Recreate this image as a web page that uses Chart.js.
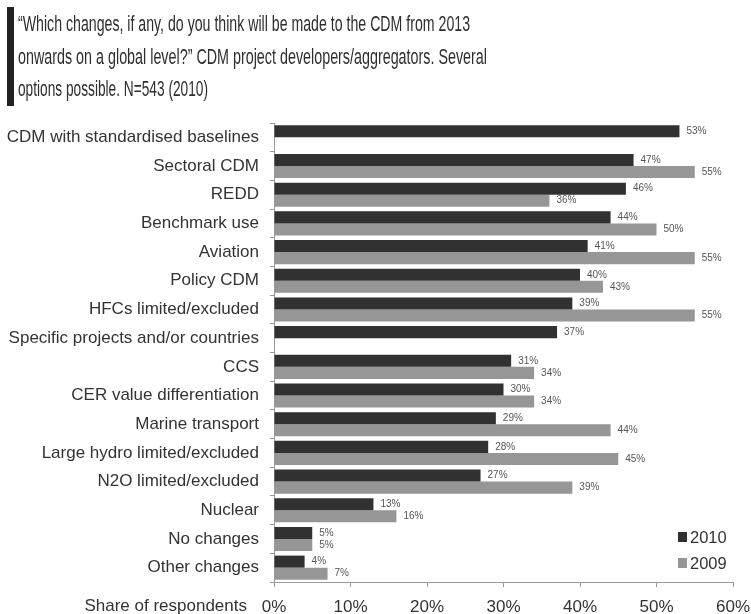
<!DOCTYPE html>
<html>
<head>
<meta charset="utf-8">
<script src="https://cdn.jsdelivr.net/npm/chart.js@4.4.1/dist/chart.umd.min.js"></script>
<style>
  html, body { margin: 0; padding: 0; background: #fff; }
  #wrap { position: relative; width: 751px; height: 614px; }
  #bar { position: absolute; left: 7px; top: 7px; width: 7px; height: 99px; background: #222; }
  .tline {
    position: absolute; left: 18px; white-space: nowrap;
    font-family: "Liberation Sans", Arial, sans-serif;
    font-size: 22.5px; line-height: 23px; color: #2e2e2e;
    transform-origin: 0 0;
  }
  canvas { position: absolute; left: 0; top: 0; }
</style>
</head>
<body>
<div id="wrap">
  <canvas id="c" width="751" height="614"></canvas>
  <div id="bar"></div>
  <div class="tline" data-w="452" style="top:12px">“Which changes, if any, do you think will be made to the CDM from 2013</div>
  <div class="tline" data-w="469" style="top:45px">onwards on a global level?” CDM project developers/aggregators. Several</div>
  <div class="tline" data-w="190" style="top:77px">options possible. N=543 (2010)</div>
</div>
<script>
// Condensed heading: squeeze each line horizontally to its set width
document.querySelectorAll(".tline").forEach((el) => {
  const w = el.getBoundingClientRect().width;
  const target = parseFloat(el.dataset.w);
  el.style.transform = "scaleX(" + (target / w) + ")";
});

// Survey answer categories
const categories = [
  "CDM with standardised baselines",
  "Sectoral CDM",
  "REDD",
  "Benchmark use",
  "Aviation",
  "Policy CDM",
  "HFCs limited/excluded",
  "Specific projects and/or countries",
  "CCS",
  "CER value differentiation",
  "Marine transport",
  "Large hydro limited/excluded",
  "N2O limited/excluded",
  "Nuclear",
  "No changes",
  "Other changes"
];
// Share of respondents (%) per year; null where the option was not asked
const values2010 = [53, 47, 46, 44, 41, 40, 39, 37, 31, 30, 29, 28, 27, 13, 5, 4];
const values2009 = [null, 55, 36, 50, 55, 43, 55, null, 34, 34, 44, 45, 39, 16, 5, 7];
const seriesLabels = ["2010", "2009"];
const xTicks = [0, 10, 20, 30, 40, 50, 60];
const axisTitle = "Share of respondents";

const DARK = "#313131";
const GREY = "#969696";
const FONT = "'Liberation Sans', Arial, sans-serif";

// Value labels to the right of each bar
const valueLabels = {
  id: "valueLabels",
  afterDatasetsDraw(chart) {
    const ctx = chart.ctx;
    ctx.save();
    ctx.font = "10px " + FONT;
    ctx.fillStyle = "#555";
    ctx.textAlign = "left";
    ctx.textBaseline = "middle";
    chart.data.datasets.forEach((ds, di) => {
      const meta = chart.getDatasetMeta(di);
      meta.data.forEach((bar, i) => {
        const v = ds.data[i];
        if (v === null || v === undefined) return;
        ctx.fillText(v + "%", bar.x + 7, bar.y);
      });
    });
    ctx.restore();
  }
};

// Axis caption on the tick row plus a legend inside the lower right of the plot
const extras = {
  id: "extras",
  afterDraw(chart) {
    const ctx = chart.ctx;
    const area = chart.chartArea;
    ctx.save();
    ctx.font = "17px " + FONT;
    ctx.fillStyle = "#333";
    ctx.textAlign = "right";
    ctx.textBaseline = "middle";
    ctx.fillText(axisTitle, area.left - 27, 606);

    // legend
    const lx = area.right - 55;
    let ly = area.bottom - 45;
    chart.data.datasets.forEach((ds) => {
      ctx.fillStyle = ds.backgroundColor;
      ctx.fillRect(lx, ly - 5, 9, 10);
      ctx.fillStyle = "#333";
      ctx.textAlign = "left";
      ctx.font = "16.5px " + FONT;
      ctx.fillText(ds.label, lx + 12, ly + 1);
      ly += 26;
    });
    ctx.restore();
  }
};

new Chart(document.getElementById("c"), {
  type: "bar",
  data: {
    labels: categories,
    datasets: [
      { label: seriesLabels[0], data: values2010, backgroundColor: DARK },
      { label: seriesLabels[1], data: values2009, backgroundColor: GREY }
    ]
  },
  options: {
    indexAxis: "y",
    responsive: false,
    animation: false,
    layout: { padding: { left: 0, right: 18, top: 123, bottom: 0 } },
    datasets: { bar: { categoryPercentage: 0.84, barPercentage: 1.0, borderWidth: 0 } },
    plugins: { legend: { display: false }, tooltip: { enabled: false } },
    scales: {
      x: {
        min: 0, max: 60,
        afterBuildTicks(scale) { scale.ticks = xTicks.map(v => ({ value: v })); },
        afterFit(scale) {
          scale.height = 32;
          scale.paddingLeft = 0;
          scale.paddingRight = 0;
        },
        border: { display: true, color: "#9a9a9a", width: 1 },
        grid: { drawOnChartArea: false, drawTicks: true, tickLength: 5, color: "#9a9a9a" },
        ticks: {
          padding: 10,
          color: "#333",
          font: { family: FONT, size: 17 },
          callback: (v) => v + "%"
        }
      },
      y: {
        afterFit(scale) { scale.width = 274; },
        border: { display: true, color: "#9a9a9a", width: 1 },
        grid: { drawOnChartArea: false, drawTicks: true, tickLength: 4, offset: true, color: "#9a9a9a" },
        ticks: {
          padding: 11,
          color: "#333",
          font: { family: FONT, size: 17 },
          autoSkip: false
        }
      }
    }
  },
  plugins: [valueLabels, extras]
});
</script>
</body>
</html>
